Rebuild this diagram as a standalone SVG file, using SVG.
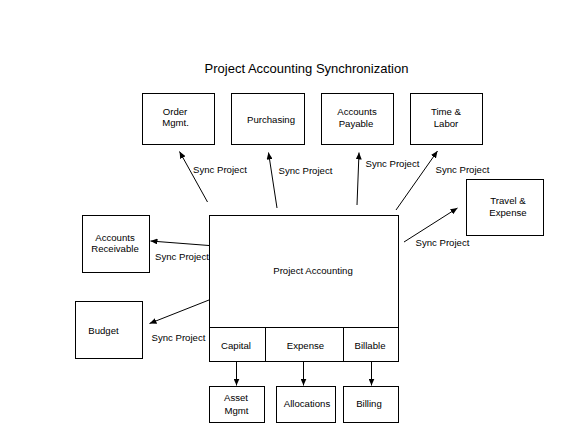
<svg xmlns="http://www.w3.org/2000/svg" width="587" height="439" viewBox="0 0 587 439">
<style>
.box{fill:#fff;stroke:#000;stroke-width:1}
.t{font-family:"Liberation Sans",Arial,sans-serif;font-size:9.6px;fill:#000;text-anchor:middle}
.lbl{font-family:"Liberation Sans",Arial,sans-serif;font-size:9.6px;fill:#000}
.title{font-family:"Liberation Sans",Arial,sans-serif;font-size:13px;fill:#000;text-anchor:middle}
.c{stroke:#000;stroke-width:1;fill:none;marker-end:url(#ah)}
</style>
<defs>
<marker id="ah" markerWidth="8" markerHeight="6" refX="7" refY="3" orient="auto" markerUnits="userSpaceOnUse">
<path d="M0,0 L7,3 L0,6 Z" fill="#000"/>
</marker>
</defs>
<rect width="587" height="439" fill="#fff"/>
<text class="title" x="306.5" y="72.5">Project Accounting Synchronization</text>

<g id="order-mgmt"><rect class="box" x="142.5" y="93.5" width="72" height="51"/><text class="t" x="175" y="115">Order</text><text class="t" x="175.5" y="126">Mgmt.</text></g>
<g id="purchasing"><rect class="box" x="231.5" y="93.5" width="73" height="51"/><text class="t" x="271" y="122.5">Purchasing</text></g>
<g id="accounts-payable"><rect class="box" x="321.5" y="93.5" width="72" height="51"/><text class="t" x="357" y="115">Accounts</text><text class="t" x="356" y="126.5">Payable</text></g>
<g id="time-labor"><rect class="box" x="410.5" y="93.5" width="72" height="51"/><text class="t" x="446" y="115">Time &amp;</text><text class="t" x="446" y="126.5">Labor</text></g>
<g id="travel-expense"><rect class="box" x="466.5" y="179.5" width="77" height="56"/><text class="t" x="508" y="204">Travel &amp;</text><text class="t" x="508" y="215.5">Expense</text></g>
<g id="accounts-receivable"><rect class="box" x="82.5" y="215.5" width="67" height="57"/><text class="t" x="115" y="241">Accounts</text><text class="t" x="115" y="252">Receivable</text></g>
<g id="budget"><rect class="box" x="75.5" y="301.5" width="67" height="57"/><text class="t" x="103.5" y="334">Budget</text></g>
<g id="project-accounting"><rect class="box" x="209.5" y="215.5" width="189" height="146"/><line x1="209.5" y1="327.5" x2="398.5" y2="327.5" stroke="#000"/><text class="t" x="313" y="274">Project Accounting</text></g>
<g id="capital"><rect class="box" x="209.5" y="327.5" width="56" height="34"/><text class="t" x="236" y="349">Capital</text></g>
<g id="expense"><rect class="box" x="265.5" y="327.5" width="78" height="34"/><text class="t" x="305.5" y="349">Expense</text></g>
<g id="billable"><rect class="box" x="343.5" y="327.5" width="55" height="34"/><text class="t" x="370" y="349">Billable</text></g>
<g id="asset-mgmt"><rect class="box" x="209.5" y="386.5" width="55" height="36"/><text class="t" x="236" y="401">Asset</text><text class="t" x="236.5" y="413.5">Mgmt</text></g>
<g id="allocations"><rect class="box" x="276.5" y="386.5" width="59" height="36"/><text class="t" x="307" y="407">Allocations</text></g>
<g id="billing"><rect class="box" x="343.5" y="386.5" width="55" height="36"/><text class="t" x="369" y="407">Billing</text></g>

<g id="connectors">
<line class="c" x1="207.5" y1="202" x2="179.5" y2="151.5"/>
<line class="c" x1="277" y1="208" x2="268.5" y2="152.5"/>
<line class="c" x1="357" y1="205" x2="359" y2="152.5"/>
<line class="c" x1="396" y1="210" x2="437.5" y2="151"/>
<line class="c" x1="404" y1="242" x2="457.5" y2="208"/>
<line class="c" x1="209" y1="245.5" x2="150.5" y2="241"/>
<line class="c" x1="209" y1="300" x2="149.5" y2="323.5"/>
<line class="c" x1="236.5" y1="362" x2="236.5" y2="385.5"/>
<line class="c" x1="303.5" y1="362" x2="303.5" y2="385.5"/>
<line class="c" x1="371.5" y1="362" x2="371.5" y2="385.5"/>
<text class="lbl" x="193" y="172.5">Sync Project</text>
<text class="lbl" x="278.5" y="174">Sync Project</text>
<text class="lbl" x="365.5" y="166.5">Sync Project</text>
<text class="lbl" x="435.5" y="172.5">Sync Project</text>
<text class="lbl" x="415.5" y="245.5">Sync Project</text>
<text class="lbl" x="155" y="260">Sync Project</text>
<text class="lbl" x="151.5" y="341">Sync Project</text>
</g>
</svg>
